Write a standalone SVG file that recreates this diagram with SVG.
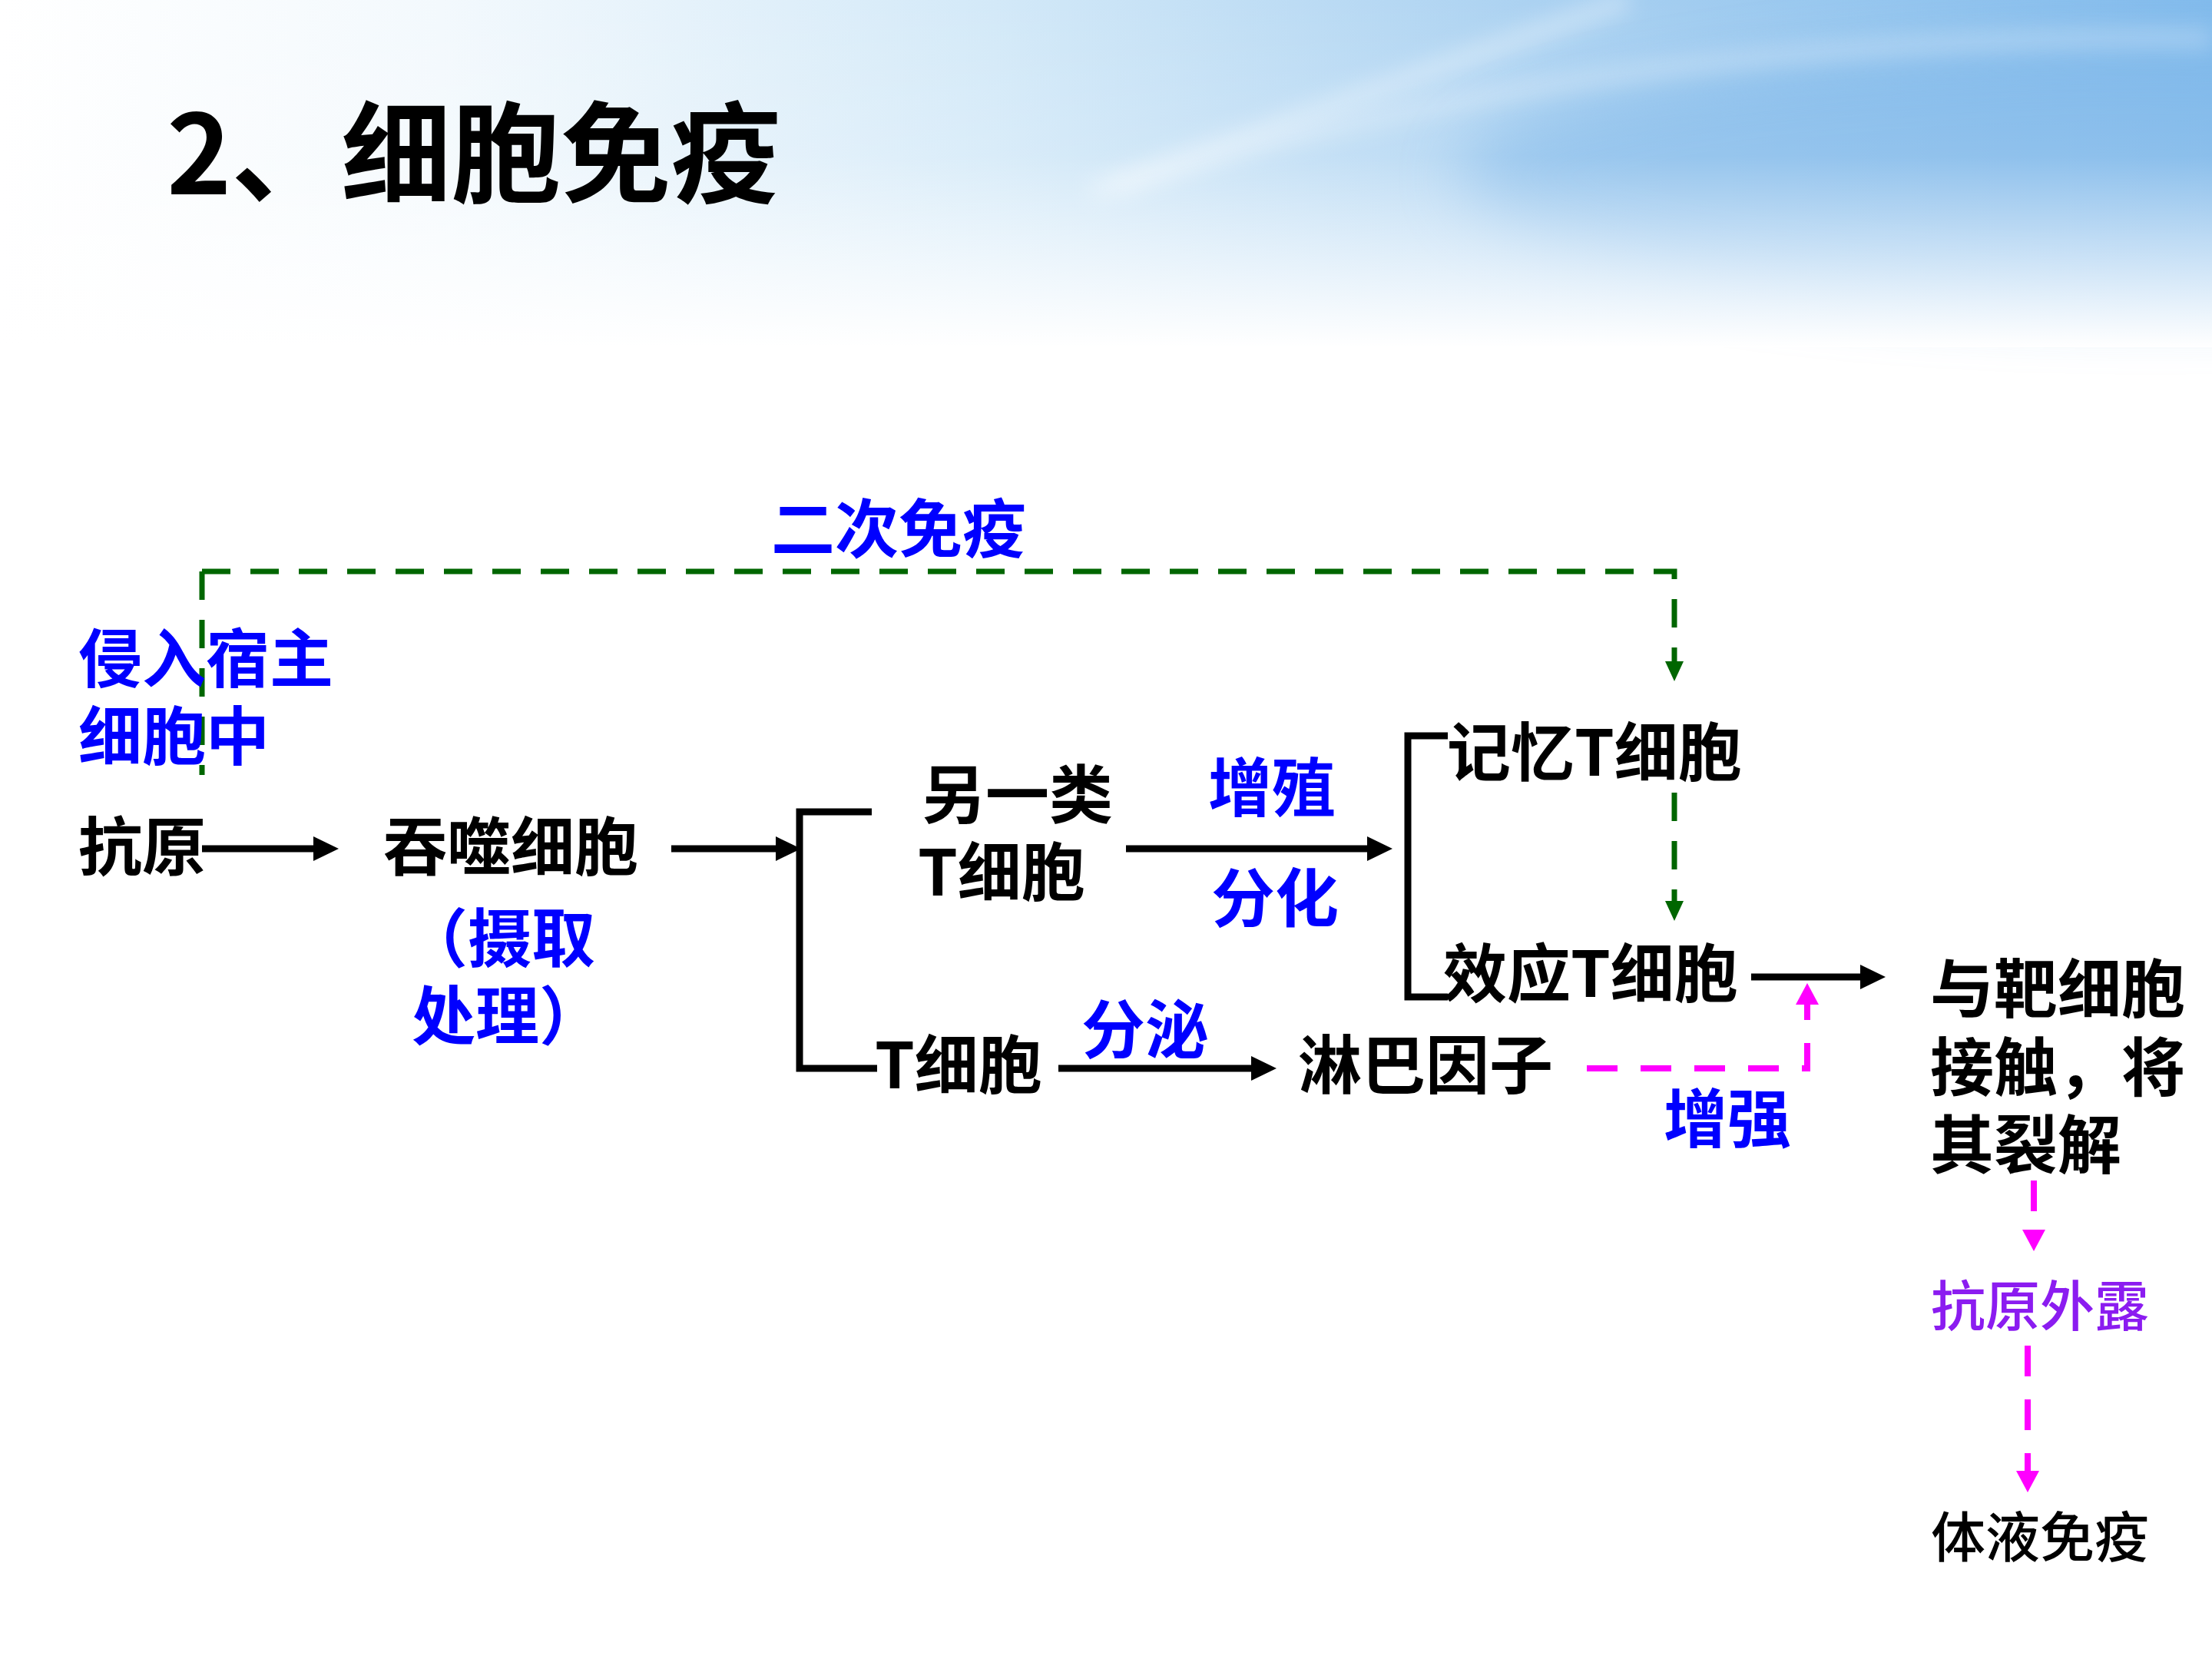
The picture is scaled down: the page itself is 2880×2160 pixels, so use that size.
<svg xmlns="http://www.w3.org/2000/svg" width="2880" height="2160" viewBox="0 0 2880 2160">
<defs>
<style>
text{font-family:'Noto Sans CJK SC','Liberation Sans',sans-serif}
.b{font-weight:700;fill:#000;font-size:83px}
.u{font-weight:700;fill:#0000ff;font-size:83px}
.v{font-weight:500;fill:#8b1cf0;font-size:71px}
.r{font-weight:500;fill:#000;font-size:71px}
.t{font-weight:700;fill:#000;font-size:143px}
.ln{fill:none;stroke:#000;stroke-width:9}
.gd{fill:none;stroke:#006600;stroke-width:7;stroke-dasharray:37 26}
.pd{fill:none;stroke:#ff00ff;stroke-width:8;stroke-dasharray:40 30}
</style>
<linearGradient id="bgH" x1="0" y1="0" x2="1" y2="0">
<stop offset="0" stop-color="#ffffff"/>
<stop offset="0.2" stop-color="#f3f9fd"/>
<stop offset="0.45" stop-color="#d3e9f8"/>
<stop offset="0.7" stop-color="#aad1f1"/>
<stop offset="1" stop-color="#82bbec"/>
</linearGradient>
<linearGradient id="bgV" x1="0" y1="0" x2="0" y2="1">
<stop offset="0" stop-color="#ffffff" stop-opacity="0"/>
<stop offset="0.45" stop-color="#ffffff" stop-opacity="0.15"/>
<stop offset="1" stop-color="#ffffff" stop-opacity="1"/>
</linearGradient>
<filter id="blur" x="-50%" y="-50%" width="200%" height="200%"><feGaussianBlur stdDeviation="40"/></filter>
<filter id="blur2" x="-50%" y="-50%" width="200%" height="200%"><feGaussianBlur stdDeviation="14"/></filter>
<marker id="ahB" markerUnits="userSpaceOnUse" viewBox="0 -20 40 40" markerWidth="40" markerHeight="40" refX="0" refY="0" orient="auto"><path d="M0,-16 L33,0 L0,16 z" fill="#000" stroke="none"/></marker>
<marker id="ahG" markerUnits="userSpaceOnUse" viewBox="0 -20 40 40" markerWidth="40" markerHeight="40" refX="0" refY="0" orient="auto"><path d="M0,-12 L26,0 L0,12 z" fill="#006600" stroke="none"/></marker>
<marker id="ahP" markerUnits="userSpaceOnUse" viewBox="0 -20 40 40" markerWidth="40" markerHeight="40" refX="0" refY="0" orient="auto"><path d="M0,-15 L28,0 L0,15 z" fill="#ff00ff" stroke="none"/></marker>
</defs>
<rect width="2880" height="2160" fill="#ffffff"/>
<g id="background">
<rect x="0" y="0" width="2880" height="450" fill="url(#bgH)"/>
<ellipse cx="2800" cy="230" rx="900" ry="170" fill="#6eaee6" opacity="0.55" filter="url(#blur)"/>
<path d="M1420,250 L2120,0" stroke="#ffffff" stroke-width="26" opacity="0.35" filter="url(#blur2)"/>
<path d="M1450,245 Q2100,40 2880,50" stroke="#ffffff" stroke-width="22" fill="none" opacity="0.3" filter="url(#blur2)"/>
<rect x="0" y="0" width="2880" height="452" fill="url(#bgV)"/>
</g>
<g id="title"><text class="t" x="217" y="253">2、细胞免疫</text></g>
<g id="connectors">
<path class="gd" d="M263,744 V1009"/>
<path class="gd" d="M263,744 H2180 V861" marker-end="url(#ahG)"/>
<path class="gd" d="M2180,1032 V1173" marker-end="url(#ahG)"/>
<path class="ln" d="M263,1105 H408" marker-end="url(#ahB)"/>
<path class="ln" d="M874,1105 H1010" marker-end="url(#ahB)"/>
<path class="ln" d="M1135,1057 H1041 V1391 H1142"/>
<path class="ln" d="M1466,1105 H1780" marker-end="url(#ahB)"/>
<path class="ln" d="M1885,958 H1833 V1298 H1885"/>
<path class="ln" d="M2280,1272 H2422" marker-end="url(#ahB)"/>
<path class="ln" d="M1378,1391 H1629" marker-end="url(#ahB)"/>
<path class="pd" d="M2066,1391 H2353 V1308" marker-end="url(#ahP)"/>
<path class="pd" d="M2648,1537 V1601" marker-end="url(#ahP)"/>
<path class="pd" d="M2640,1752 V1915" marker-end="url(#ahP)"/>
</g>
<g id="label-secondary"><text class="u" x="1004" y="719">二次免疫</text></g>
<g id="label-invade"><text class="u" x="102" y="888">侵入宿主</text><text class="u" x="102" y="989">细胞中</text></g>
<g id="node-antigen"><text class="b" x="102" y="1133">抗原</text></g>
<g id="node-phagocyte"><text class="b" x="499" y="1133">吞噬细胞</text></g>
<g id="label-process"><text class="u" x="526" y="1252">（摄取</text><text class="u" x="536" y="1353">处理）</text></g>
<g id="node-other-t"><text class="b" x="1200" y="1065">另一类</text><text class="b" x="1195" y="1166">T细胞</text></g>
<g id="label-proliferate"><text class="u" x="1573" y="1056">增殖</text><text class="u" x="1577" y="1200">分化</text></g>
<g id="node-memory-t"><text class="b" x="1884" y="1010">记忆T细胞</text></g>
<g id="node-effector-t"><text class="b" x="1879" y="1298">效应T细胞</text></g>
<g id="node-t"><text class="b" x="1139" y="1417">T细胞</text></g>
<g id="label-secrete"><text class="u" x="1408" y="1371">分泌</text></g>
<g id="node-lymphokine"><text class="b" x="1690" y="1417">淋巴因子</text></g>
<g id="label-enhance"><text class="u" x="2166" y="1487">增强</text></g>
<g id="node-target"><text class="b" x="2513" y="1318">与靶细胞</text><text class="b" x="2513" y="1420">接触，将</text><text class="b" x="2513" y="1521">其裂解</text></g>
<g id="node-exposed"><text class="v" x="2514" y="1726">抗原外露</text></g>
<g id="node-humoral"><text class="r" x="2514" y="2027">体液免疫</text></g>
</svg>
